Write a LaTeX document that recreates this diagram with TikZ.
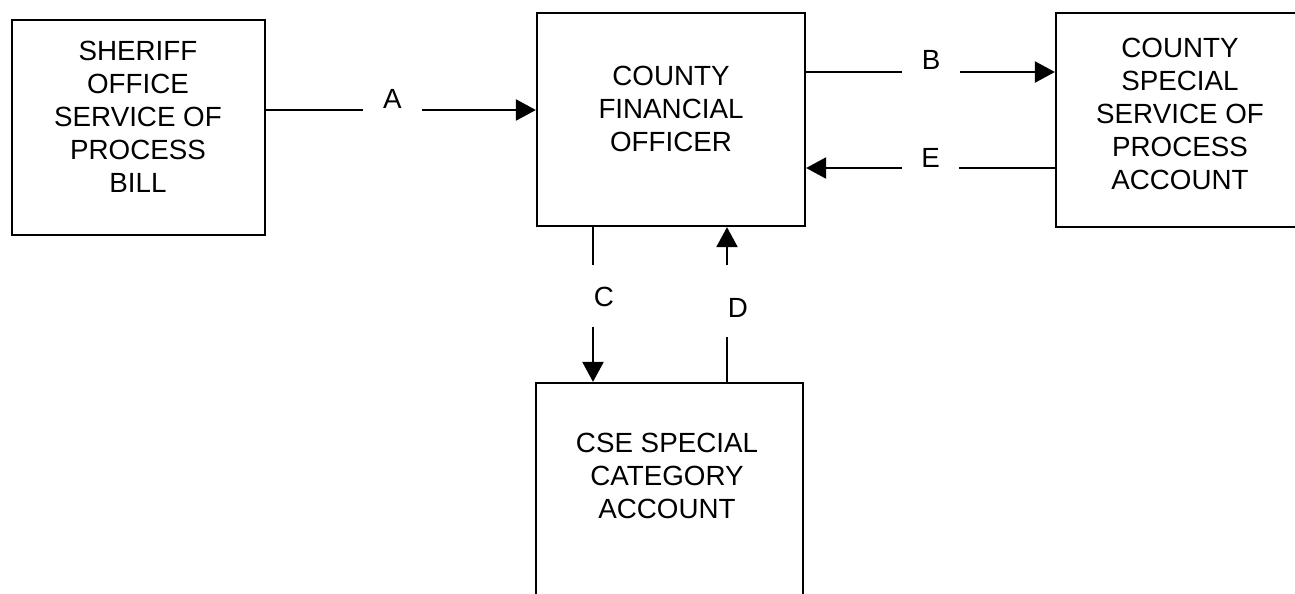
\documentclass[tikz,border=0pt]{standalone}
\usepackage{fontspec}
\setmainfont{Liberation Sans}
\usetikzlibrary{arrows.meta}

\begin{document}
\begin{tikzpicture}[
  x=0.02cm, y=-0.02cm,
  block/.style={rectangle, draw=black, line width=1.3pt},
  blocktext/.style={align=center, inner sep=0pt, font=\fontsize{15.8}{18.8}\selectfont},
  tag/.style={inner sep=0pt, anchor=base, font=\fontsize{15.8}{18.8}\selectfont},
  arrow/.style={-{Triangle[length=0.4cm, width=0.42cm]}, line width=1.3pt},
  link/.style={line width=1.3pt}
]
\clip (0,0) rectangle (1295,593);
\useasboundingbox (0,0) rectangle (1295,593);

% boxes
\node[block, minimum width=5.06cm, minimum height=4.3cm] (sheriff) at (138.5,127.5) {};
\node[block, minimum width=5.36cm, minimum height=4.26cm] (cfo) at (671,119.5) {};
\node[block, minimum width=4.96cm, minimum height=4.28cm] (special) at (1180,120) {};
\node[block, minimum width=5.34cm, minimum height=4.8cm] (cse) at (669.5,503) {};

\node[blocktext] (sheriff-txt) at (138,117) {SHERIFF\\OFFICE\\SERVICE OF\\PROCESS\\BILL};
\node[blocktext] (cfo-txt) at (671,109) {COUNTY\\FINANCIAL\\OFFICER};
\node[blocktext] (special-txt) at (1180,113.5) {COUNTY\\SPECIAL\\SERVICE OF\\PROCESS\\ACCOUNT};
\node[blocktext] (cse-txt) at (667,475.5) {CSE SPECIAL\\CATEGORY\\ACCOUNT};

% lanes of the connectors
\coordinate (laneA) at (0,110);
\coordinate (laneB) at (0,72);
\coordinate (laneE) at (0,168);
\coordinate (laneC) at (593,0);
\coordinate (laneD) at (727,0);

% labels, sized to the gaps they leave in the lines
\node[tag, minimum width=1.18cm] (lblA) at (392.5,108) {A};
\node[tag, minimum width=1.16cm] (lblB) at (931,69) {B};
\node[tag, minimum width=1.14cm] (lblE) at (930.5,167) {E};
\node[tag, text height=0.82cm, text depth=0.42cm] (lblC) at (604,306) {C};
\node[tag, text height=1.04cm, text depth=0.4cm] (lblD) at (738,317) {D};

\draw[link] (sheriff.east |- laneA) -- (lblA.west |- laneA);
\draw[arrow] (lblA.east |- laneA) -- (cfo.west |- laneA);

\draw[link] (cfo.east |- laneB) -- (lblB.west |- laneB);
\draw[arrow] (lblB.east |- laneB) -- (special.west |- laneB);

\draw[link] (special.west |- laneE) -- (lblE.east |- laneE);
\draw[arrow] (lblE.west |- laneE) -- (cfo.east |- laneE);

\draw[link] (cfo.south -| laneC) -- (lblC.north -| laneC);
\draw[arrow] (lblC.south -| laneC) -- (cse.north -| laneC);

\draw[link] (cse.north -| laneD) -- (lblD.south -| laneD);
\draw[arrow] (lblD.north -| laneD) -- (cfo.south -| laneD);

\end{tikzpicture}
\end{document}
